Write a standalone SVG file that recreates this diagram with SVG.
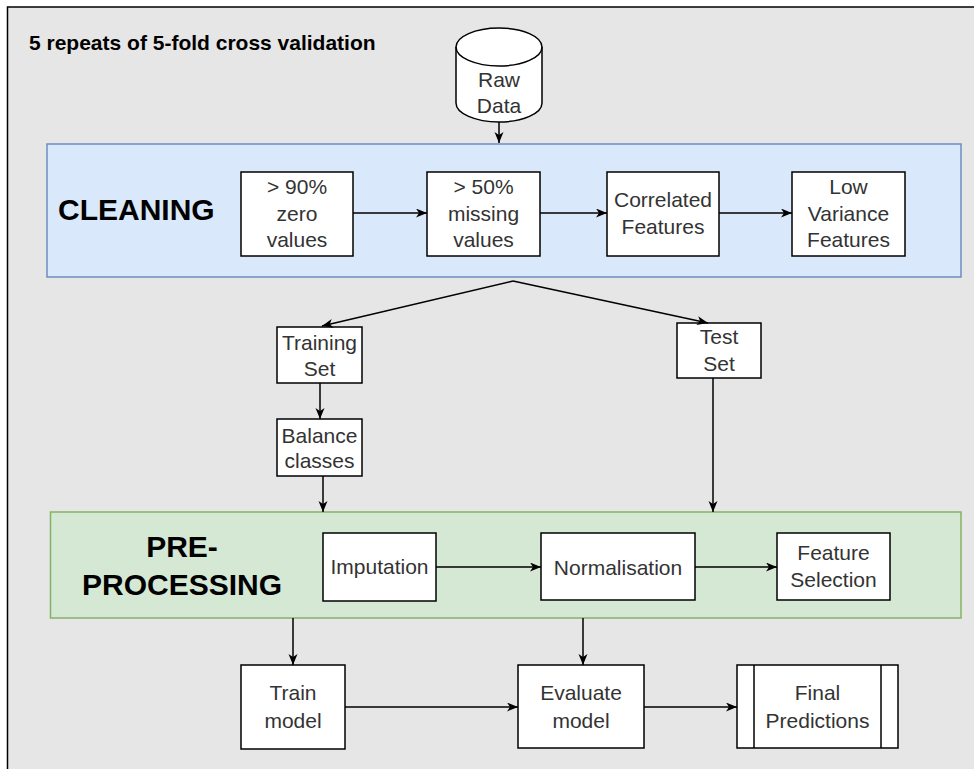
<svg xmlns="http://www.w3.org/2000/svg" width="974" height="769" viewBox="0 0 974 769">
<defs>
<marker id="arr" markerUnits="userSpaceOnUse" markerWidth="12" markerHeight="10" refX="11" refY="4.5" orient="auto">
<path d="M0,0 L11,4.5 L0,9 L3,4.5 Z" fill="#000"/>
</marker>
<style>
.box{fill:#fff;stroke:#000;stroke-width:1.5}
.t{font-family:"Liberation Sans",Arial,sans-serif;font-size:21px;fill:#333;text-anchor:middle}
.b{font-family:"Liberation Sans",Arial,sans-serif;font-weight:bold;fill:#000}
.e{fill:none;stroke:#000;stroke-width:1.5;marker-end:url(#arr)}
</style>
</defs>
<rect width="974" height="769" fill="#fff"/>
<g id="frame">
<rect x="7.5" y="7" width="1000" height="800" fill="#e6e6e6" stroke="#000" stroke-width="1.5"/>
<text class="b" x="29" y="50" font-size="21">5 repeats of 5-fold cross validation</text>
</g>
<g id="cleaning">
<rect x="47" y="144" width="914" height="133" fill="#dae8fc" stroke="#6c8ebf" stroke-width="1.5"/>
<text class="b" x="58" y="220" font-size="30">CLEANING</text>
</g>
<g id="preprocessing">
<rect x="50.5" y="512" width="910.5" height="106" fill="#d5e8d4" stroke="#82b366" stroke-width="1.5"/>
<text class="b" x="182" y="557" font-size="30" text-anchor="middle">PRE-</text>
<text class="b" x="182" y="595" font-size="30" text-anchor="middle">PROCESSING</text>
</g>
<g id="rawdata">
<path d="M456,47 A43,19 0 0 1 542,47 L542,103 A43,19 0 0 1 456,103 Z" fill="#fff" stroke="#000" stroke-width="1.5"/>
<path d="M456,47 A43,19 0 0 0 542,47" fill="none" stroke="#000" stroke-width="1.5"/>
<text class="t" x="499" y="87">Raw</text>
<text class="t" x="499" y="113">Data</text>
</g>
<g id="zero">
<rect class="box" x="241" y="172" width="112" height="84"/>
<text class="t" x="297" y="194">&gt; 90%</text>
<text class="t" x="297" y="221">zero</text>
<text class="t" x="297" y="247">values</text>
</g>
<g id="missing">
<rect class="box" x="427" y="172" width="113" height="84"/>
<text class="t" x="483.5" y="194">&gt; 50%</text>
<text class="t" x="483.5" y="221">missing</text>
<text class="t" x="483.5" y="247">values</text>
</g>
<g id="correlated">
<rect class="box" x="607" y="172" width="112" height="84"/>
<text class="t" x="663" y="207">Correlated</text>
<text class="t" x="663" y="234">Features</text>
</g>
<g id="lowvar">
<rect class="box" x="792" y="172" width="113" height="84"/>
<text class="t" x="848.5" y="194">Low</text>
<text class="t" x="848.5" y="221">Variance</text>
<text class="t" x="848.5" y="247">Features</text>
</g>
<g id="training">
<rect class="box" x="277" y="327" width="85" height="56"/>
<text class="t" x="319.5" y="350">Training</text>
<text class="t" x="319.5" y="376">Set</text>
</g>
<g id="balance">
<rect class="box" x="277" y="419" width="85" height="57"/>
<text class="t" x="319.5" y="443">Balance</text>
<text class="t" x="319.5" y="468">classes</text>
</g>
<g id="test">
<rect class="box" x="677" y="323" width="84" height="55"/>
<text class="t" x="719" y="344">Test</text>
<text class="t" x="719" y="371">Set</text>
</g>
<g id="imputation">
<rect class="box" x="323" y="533" width="113" height="68"/>
<text class="t" x="379.5" y="574">Imputation</text>
</g>
<g id="normalisation">
<rect class="box" x="541" y="533" width="154" height="67"/>
<text class="t" x="618" y="575">Normalisation</text>
</g>
<g id="featsel">
<rect class="box" x="777" y="533" width="113" height="67"/>
<text class="t" x="833.5" y="560">Feature</text>
<text class="t" x="833.5" y="587">Selection</text>
</g>
<g id="train">
<rect class="box" x="241" y="665" width="104" height="84"/>
<text class="t" x="293" y="700">Train</text>
<text class="t" x="293" y="728">model</text>
</g>
<g id="evaluate">
<rect class="box" x="518" y="665" width="126" height="83"/>
<text class="t" x="581" y="700">Evaluate</text>
<text class="t" x="581" y="728">model</text>
</g>
<g id="final">
<rect class="box" x="737" y="665" width="161" height="83"/>
<line x1="754" y1="665" x2="754" y2="748" stroke="#000" stroke-width="1.5"/>
<line x1="881" y1="665" x2="881" y2="748" stroke="#000" stroke-width="1.5"/>
<text class="t" x="817.5" y="700">Final</text>
<text class="t" x="817.5" y="728">Predictions</text>
</g>
<g id="connectors">
<path class="e" d="M499,122 L499,143"/>
<path class="e" d="M353,213 L427,213"/>
<path class="e" d="M540,213 L607,213"/>
<path class="e" d="M719,213 L792,213"/>
<path class="e" d="M513,281 L322,326"/>
<path class="e" d="M513,281 L708,323"/>
<path class="e" d="M320,383 L320,419"/>
<path class="e" d="M323,476 L323,512"/>
<path class="e" d="M713,378 L713,512"/>
<path class="e" d="M436,567 L541,567"/>
<path class="e" d="M695,567 L777,567"/>
<path class="e" d="M293,618 L293,665"/>
<path class="e" d="M583,618 L583,665"/>
<path class="e" d="M345,707 L518,707"/>
<path class="e" d="M644,707 L737,707"/>
</g>
</svg>
